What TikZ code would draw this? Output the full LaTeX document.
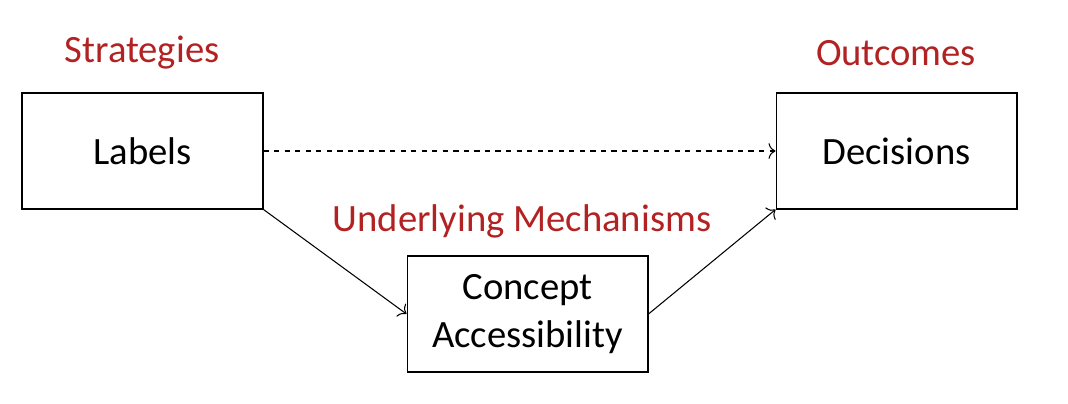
\documentclass[tikz,border=0pt]{standalone}
\usepackage{fontspec}
\setmainfont{Carlito}
\usetikzlibrary{arrows.meta}
\definecolor{headred}{RGB}{178,34,34}
\tikzset{
  box/.style={draw,line width=0.6pt,minimum width=4.82cm,minimum height=2.32cm,align=center,font=\fontsize{22}{27}\selectfont},
  head/.style={text=headred,font=\fontsize{22}{27}\selectfont},
  link/.style={->,line width=0.6pt},
}
\begin{document}
\begin{tikzpicture}[>={To[length=4pt,width=9pt]},x=0.02cm,y=-0.02cm]
\useasboundingbox (0,0) rectangle (1068,404);

% Boxes.
\node[box] (labels) at (142.5,151) {Labels};
\node[box] (decisions) at (896.5,151) {Decisions};
\node[box] (concept) at (527.5,314) {Concept\\Accessibility};

% Headings.
\node[head] (strategies) at (142,53) {Strategies};
\node[head] (outcomes) at (896,53) {Outcomes};
\node[head] (mechanisms) at (522,221) {Underlying Mechanisms};

% Connections.
\draw[link,dashed] (labels.east) -- (decisions.west);
\draw[link] (labels.south east) -- (concept.west);
\draw[link] (concept.east) -- (decisions.south west);

\end{tikzpicture}
\end{document}
